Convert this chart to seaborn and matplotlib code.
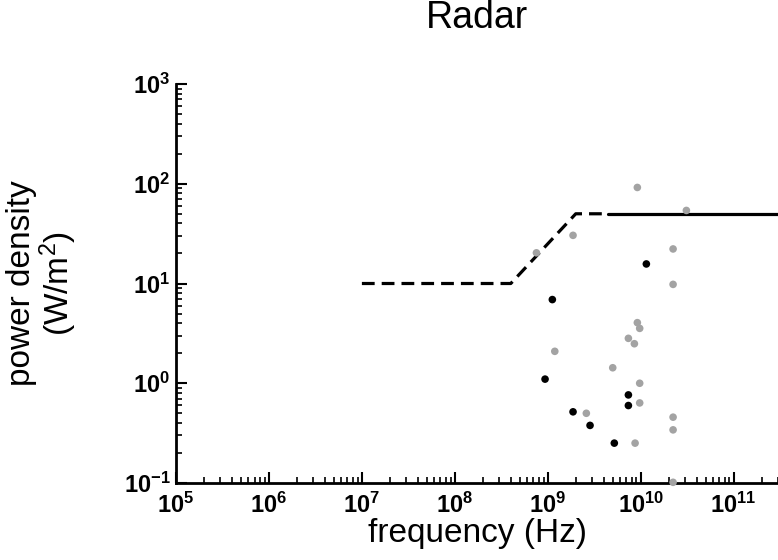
import matplotlib
matplotlib.use("Agg")
import matplotlib.pyplot as plt
import matplotlib.ticker as mticker
import numpy as np
import pandas as pd
import seaborn as sns

# reference level (W/m2) vs frequency (Hz)
limit_dash_freq = [1e7, 4e8, 2e9, 4.5e9]
limit_dash_power = [10, 10, 50, 50]
limit_solid_freq = [4.5e9, 3e11]
limit_solid_power = [50, 50]

# measured radar exposures
black_freq = [1.15e10, 1.12e9, 9.35e8, 1.87e9, 2.85e9, 5.2e9, 7.37e9, 7.37e9]
black_power = [15.7, 6.9, 1.10, 0.517, 0.378, 0.251, 0.764, 0.598]
gray_freq = [9.2e9, 3.1e10, 1.87e9, 7.55e8, 2.23e10, 2.23e10, 9.2e9, 9.75e9, 7.37e9,
             8.55e9, 1.19e9, 5.0e9, 9.75e9, 9.75e9, 2.6e9, 2.23e10, 2.23e10, 8.7e9, 2.23e10]
gray_power = [91.8, 54, 30.4, 20.3, 22.2, 9.8, 4.05, 3.55, 2.82,
              2.49, 2.09, 1.43, 1.0, 0.635, 0.50, 0.457, 0.341, 0.251, 0.1016]

sns.set_style("ticks")
plt.rcParams["font.family"] = ["Liberation Sans", "DejaVu Sans"]
plt.rcParams["mathtext.fontset"] = "custom"
plt.rcParams["mathtext.rm"] = "Liberation Sans"
plt.rcParams["mathtext.it"] = "Liberation Sans:italic"
plt.rcParams["mathtext.bf"] = "Liberation Sans:bold"
for key in ("text.color", "axes.labelcolor", "xtick.color", "ytick.color", "axes.edgecolor"):
	plt.rcParams[key] = "black"

points = pd.DataFrame({
	"freq": black_freq + gray_freq,
	"power": black_power + gray_power,
	"group": ["black"] * len(black_freq) + ["gray"] * len(gray_freq),
})

fig = plt.figure(figsize=(7.78, 5.60), dpi=100)
ax = fig.add_axes([176 / 778, 1 - 483 / 560, 1 - 176 / 778, (483 - 84) / 560])

ax.set_xscale("log")
ax.set_yscale("log")

sns.lineplot(x=limit_dash_freq, y=limit_dash_power, ax=ax, color="black", lw=2.3,
	dashes=False, linestyle=(0, (4, 2.2)), sort=False)
sns.lineplot(x=limit_solid_freq, y=limit_solid_power, ax=ax, color="black", lw=2.3, sort=False)

sns.scatterplot(data=points, x="freq", y="power", hue="group",
	palette={"black": "black", "gray": "#a3a3a3"}, s=30, linewidth=0,
	legend=False, ax=ax, clip_on=False, zorder=3)

ax.set_xlim(1e5, 3e11)
ax.set_ylim(1e-1, 1e3)

fmt = mticker.FuncFormatter(lambda v, pos: r"$\mathbf{10^{%d}}$" % round(np.log10(v)))
for axis in (ax.xaxis, ax.yaxis):
	axis.set_major_locator(mticker.LogLocator(base=10, numticks=20))
	axis.set_minor_locator(mticker.LogLocator(base=10, subs=np.arange(2, 10), numticks=20))
	axis.set_major_formatter(fmt)
	axis.set_minor_formatter(mticker.NullFormatter())

ax.tick_params(which="major", direction="in", length=8, width=1.5, labelsize=17)
ax.tick_params(axis="x", which="major", pad=7)
ax.tick_params(axis="y", which="major", pad=4)
ax.tick_params(which="minor", direction="in", length=4, width=1.2)
sns.despine(ax=ax)
for side in ("left", "bottom"):
	ax.spines[side].set_linewidth(2)

ax.set_xlabel("frequency (Hz)", fontsize=24, labelpad=0)
ax.set_ylabel("power density\n(W/m$^2$)", fontsize=24, va="center", linespacing=1.0)
ax.yaxis.set_label_coords(-0.222, 0.5)
ax.set_title("Radar", fontsize=27, pad=40)

fig.savefig("out.png", dpi=100)
